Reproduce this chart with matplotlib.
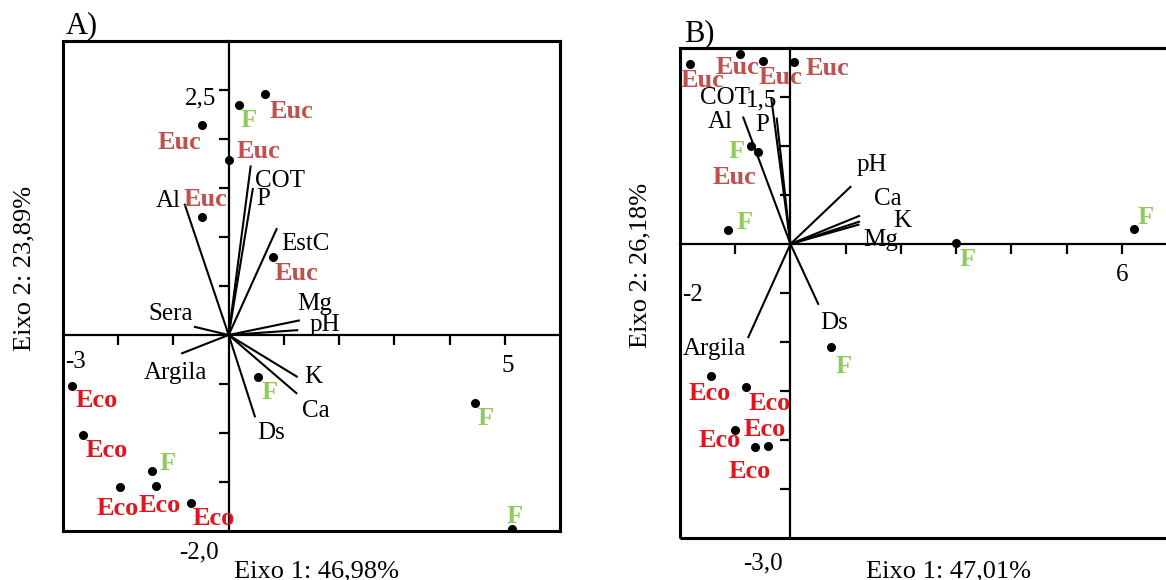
import matplotlib
matplotlib.use("Agg")
import matplotlib.pyplot as plt
from matplotlib.patches import Rectangle

# ---------------- data ----------------
# Panel A: sample scores
a_group = ["Euc", "F", "Euc", "Euc", "Euc", "Euc", "F", "F", "F",
           "Eco", "Eco", "F", "Eco", "Eco", "Eco"]
a_x = [0.66, 0.19, -0.48, 0.00, -0.48, 0.80, 0.53, 4.46, 5.13,
       -2.83, -2.64, -1.38, -1.96, -1.32, -0.69]
a_y = [2.46, 2.35, 2.14, 1.79, 1.20, 0.80, -0.43, -0.69, -1.98,
       -0.52, -1.02, -1.39, -1.55, -1.54, -1.71]
# Panel A: variable vectors
a_vec = ["Al", "COT", "P", "EstC", "Mg", "pH", "Sera", "Argila", "K", "Ca", "Ds"]
a_vx = [-0.80, 0.40, 0.44, 0.875, 1.29, 1.26, -0.63, -0.86, 1.25, 1.24, 0.48]
a_vy = [1.34, 1.73, 1.50, 1.09, 0.15, 0.05, 0.085, -0.19, -0.43, -0.60, -0.84]

# Panel B: sample scores
b_group = ["Euc", "Euc", "Euc", "Euc", "F", "Euc", "F", "F", "F", "F",
           "Eco", "Eco", "Eco", "Eco", "Eco"]
b_x = [-1.81, -0.92, -0.50, 0.06, -0.71, -0.59, -1.13, 3.00, 6.22, 0.74,
       -1.43, -0.80, -1.00, -0.65, -0.40]
b_y = [1.84, 1.94, 1.87, 1.86, 1.00, 0.94, 0.14, 0.01, 0.15, -1.05,
       -1.35, -1.46, -1.90, -2.07, -2.06]
# Panel B: variable vectors
b_vec = ["COT", "P", "Al", "pH", "Ca", "K", "Mg", "Argila", "Ds"]
b_vx = [-0.35, -0.25, -0.86, 1.10, 1.26, 1.26, 1.25, -0.77, 0.51]
b_vy = [1.50, 1.29, 1.30, 0.59, 0.29, 0.23, 0.20, -0.96, -0.62]

# axis titles
a_xlabel, a_ylabel = "Eixo 1: 46,98%", "Eixo 2: 23,89%"
b_xlabel, b_ylabel = "Eixo 1: 47,01%", "Eixo 2: 26,18%"

# ---------------- styling / label placement (pixels) ----------------
group_colors = {"Euc": "#C0504D", "Eco": "#E0151D", "F": "#8FCB5B"}
a_grp_off = [(26, -18), (9, -16), (-23, -17), (30, 8), (3, 18), (24, -17),
             (12, -15), (11, -16), (3, 13), (24, -15), (24, -16), (15, 8),
             (-3, -22), (4, -20), (23, -16)]
a_vec_off = [(-4, 3, "right"), (4, -16, "left"), (3, -11, "left"), (4, -16, "left"),
             (-3, 16, "left"), (11, 5, "left"), (-1, 13, "right"), (26, -19, "right"),
             (7, 0, "left"), (5, -17, "left"), (2, -16, "left")]
b_grp_off = [(12, -17), (-2, -14), (18, -17), (34, -7), (-15, -6), (-23, -26),
             (17, 8), (11, -16), (12, 12), (12, -20), (-2, -17), (23, -16),
             (-16, -10), (-5, -25), (-4, 16)]
b_vec_off = [(-21, -1, "right"), (-21, -7, "left"), (-10, -5, "right"),
             (5, 21, "left"), (14, 17, "left"), (33, 0, "left"), (4, -16, "left"),
             (-65, -11, "left"), (2, -18, "left")]

plt.rcParams["font.family"] = ["Liberation Serif", "DejaVu Serif"]
W, H = 1166, 580
fig = plt.figure(figsize=(W / 100, H / 100), dpi=100)
FS = 18
FS_GRP = 19
FS_TITLE = 19
FS_PANEL = 22


def make_panel(rect, xlim, ylim, xticks, yticks):
    ax = fig.add_axes(rect)
    ax.set_xlim(*xlim)
    ax.set_ylim(*ylim)
    ax.spines["left"].set_position(("data", 0))
    ax.spines["bottom"].set_position(("data", 0))
    for s in ("left", "bottom"):
        ax.spines[s].set_linewidth(1.6)
    for s in ("top", "right"):
        ax.spines[s].set_linewidth(2.2)
    ax.add_patch(Rectangle((0, 0), 1, 1, transform=ax.transAxes, fill=False,
                           lw=2.2, edgecolor="black", zorder=5, clip_on=False))
    ax.set_xticks(xticks)
    ax.set_yticks(yticks)
    ax.set_xticklabels([])
    ax.set_yticklabels([])
    ax.tick_params(direction="out", length=7, width=1.6)
    return ax


def draw(ax, gx, gy, groups, goff, vn, vx, vy, voff):
    for n, x, y, (dx, dy, ha) in zip(vn, vx, vy, voff):
        ax.plot([0, x], [0, y], color="black", lw=1.5, zorder=3, solid_capstyle="butt")
        ax.annotate(n, (x, y), xytext=(dx, dy), textcoords="offset pixels",
                    ha=ha, va="center", fontsize=FS, zorder=6)
    ax.plot(gx, gy, "o", color="black", ms=5.5, zorder=4, ls="none")
    for g, x, y, (dx, dy) in zip(groups, gx, gy, goff):
        ax.annotate(g, (x, y), xytext=(dx, dy), textcoords="offset pixels",
                    ha="center", va="center", fontsize=FS_GRP, fontweight="bold",
                    color=group_colors[g], zorder=7)


def ftext(px, py, s, size=FS, **kw):
    fig.text(px / W, 1 - py / H, s, fontsize=size, **kw)


# Panel A: box x 63..560, y 41..531
axA = make_panel([63 / W, 1 - 531 / H, (560 - 63) / W, (531 - 41) / H],
                 (-3, 6), (-2, 3), [-2, -1, 1, 2, 3, 4, 5],
                 [-1.5, -1, -0.5, 0.5, 1, 1.5, 2, 2.5])
draw(axA, a_x, a_y, a_group, a_grp_off, a_vec, a_vx, a_vy, a_vec_off)
axA.annotate("2,5", (0, 2.5), xytext=(-12, -8), textcoords="offset pixels",
             ha="right", va="center", fontsize=FS, zorder=6)
axA.annotate("-3", (-3, 0), xytext=(2, -27), textcoords="offset pixels",
             ha="left", va="center", fontsize=FS, zorder=6)
axA.annotate("5", (5, 0), xytext=(3, -31), textcoords="offset pixels",
             ha="center", va="center", fontsize=FS, zorder=6)
axA.annotate("-2,0", (-0.54, -2), xytext=(0, -21), textcoords="offset pixels",
             ha="center", va="center", fontsize=FS, annotation_clip=False)

# Panel B: box x 680..1177, y 48..538
axB = make_panel([680 / W, 1 - 538 / H, 497 / W, 490 / H],
                 (-2, 7), (-3, 2), [-1, 1, 2, 3, 4, 5, 6],
                 [-2.5, -2, -1.5, -1, -0.5, 0.5, 1, 1.5])
draw(axB, b_x, b_y, b_group, b_grp_off, b_vec, b_vx, b_vy, b_vec_off)
axB.annotate("1,5", (0, 1.5), xytext=(-13, -3), textcoords="offset pixels",
             ha="right", va="center", fontsize=FS, zorder=6)
axB.annotate("-2", (-2, 0), xytext=(2, -51), textcoords="offset pixels",
             ha="left", va="center", fontsize=FS, zorder=6)
axB.annotate("6", (6, 0), xytext=(0, -31), textcoords="offset pixels",
             ha="center", va="center", fontsize=FS, zorder=6)
axB.annotate("-3,0", (-0.5, -3), xytext=(0, -25), textcoords="offset pixels",
             ha="center", va="center", fontsize=FS, annotation_clip=False)

# axis titles and panel letters
ftext(317, 571, a_xlabel, FS_TITLE, ha="center", va="center")
ftext(24, 268, a_ylabel, FS_TITLE, ha="center", va="center", rotation=90)
ftext(949, 571, b_xlabel, FS_TITLE, ha="center", va="center")
ftext(640, 265, b_ylabel, FS_TITLE, ha="center", va="center", rotation=90)
ftext(66, 26, "A)", FS_PANEL, ha="left", va="center")
ftext(684, 34, "B)", FS_PANEL, ha="left", va="center")

fig.savefig("out.png", dpi=100)
